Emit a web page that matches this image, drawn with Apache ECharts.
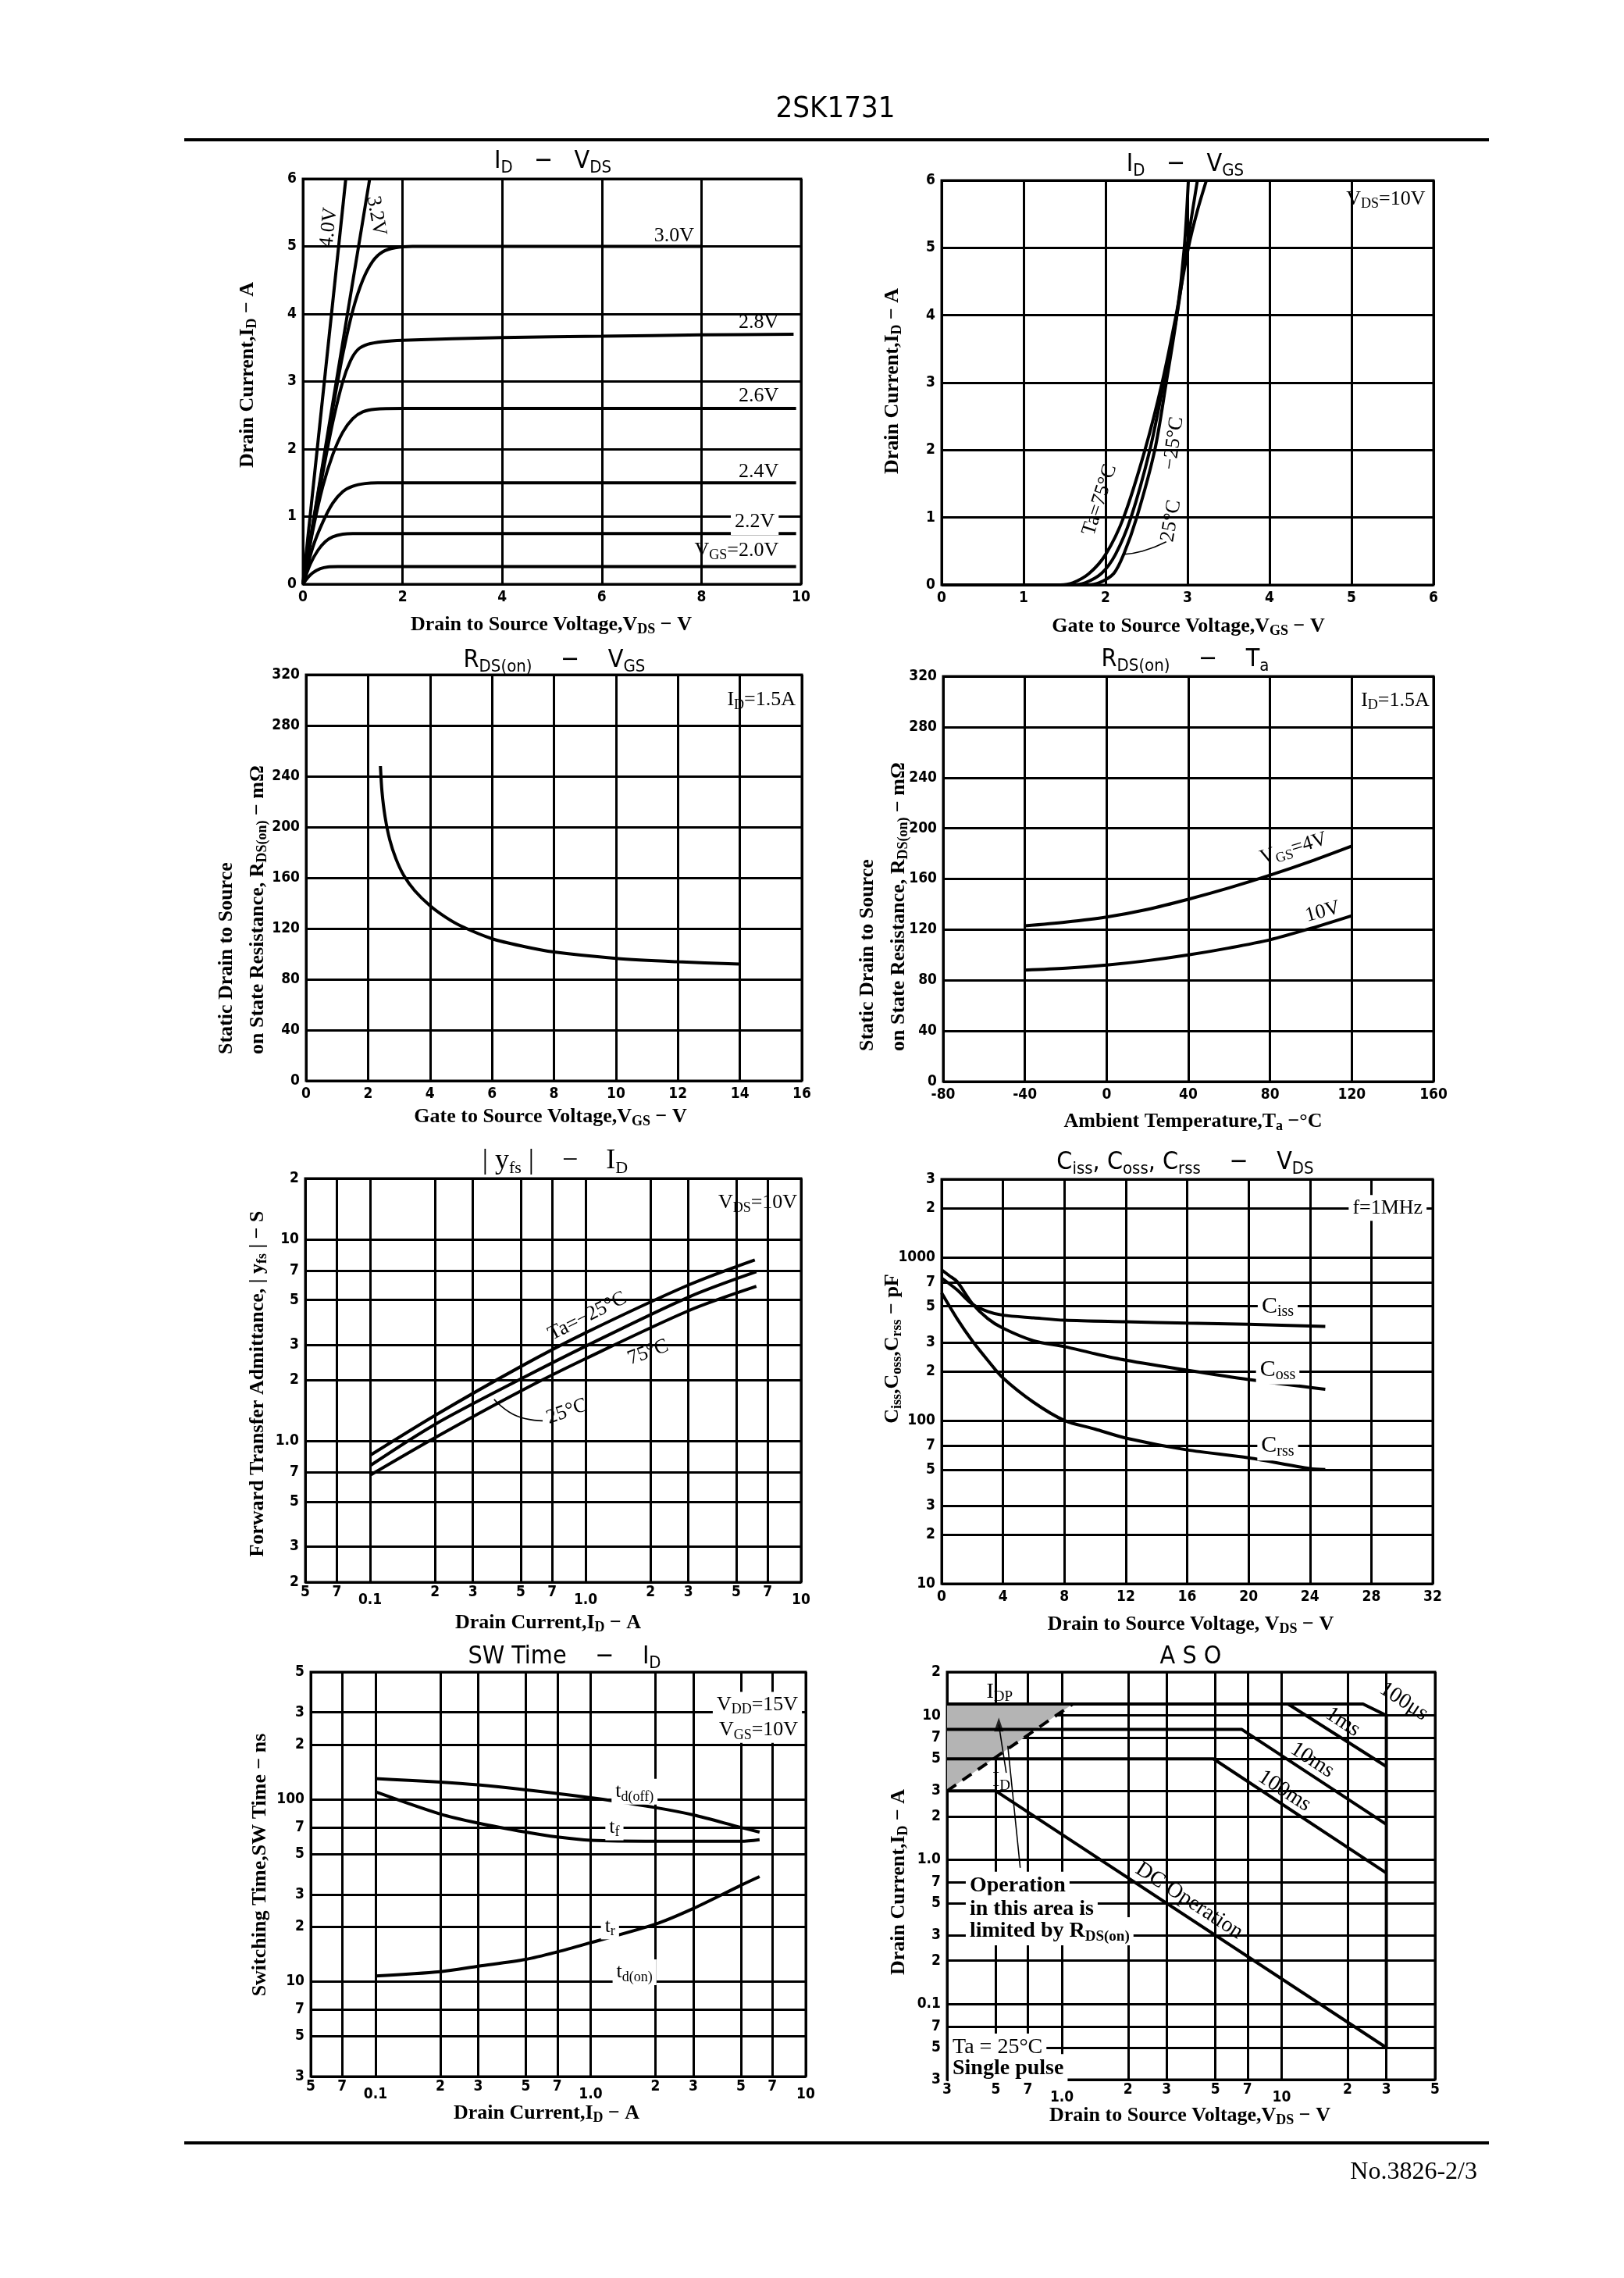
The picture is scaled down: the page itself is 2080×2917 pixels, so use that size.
<!DOCTYPE html>
<html><head><meta charset="utf-8">
<script src="https://cdn.jsdelivr.net/npm/echarts@6/dist/echarts.min.js"></script>
<style>html,body{margin:0;padding:0;background:#fff}#c{width:2080px;height:2917px}</style>
</head><body><div id="c"></div>
<script>
// ---------------- DATA ----------------
// Chart 1: ID - VDS  (x: VDS [V], y: ID [A]) per VGS
const idvds_40 = [[0,0],[0.86,6]];
const idvds_32 = [[0,0],[1.34,6]];
const idvds_30 = [[0,0],[0.2,0.88],[0.4,1.75],[0.6,2.6],[0.8,3.4],[1.0,4.05],[1.2,4.5],[1.4,4.78],[1.6,4.92],[1.85,4.98],[2.2,5.0],[8,5.0]];
const idvds_28 = [[0,0],[0.2,0.84],[0.4,1.65],[0.6,2.4],[0.8,3.0],[0.95,3.3],[1.1,3.47],[1.3,3.55],[1.6,3.59],[2,3.61],[4,3.65],[6,3.67],[8,3.69],[9.85,3.7]];
const idvds_26 = [[0,0],[0.2,0.8],[0.4,1.45],[0.6,1.92],[0.8,2.25],[1.0,2.45],[1.2,2.55],[1.45,2.59],[2,2.6],[9.9,2.6]];
const idvds_24 = [[0,0],[0.2,0.55],[0.4,0.92],[0.6,1.2],[0.8,1.37],[1.0,1.45],[1.25,1.49],[1.5,1.5],[9.9,1.5]];
const idvds_22 = [[0,0],[0.15,0.3],[0.3,0.5],[0.45,0.63],[0.6,0.7],[0.8,0.74],[1.0,0.75],[9.9,0.75]];
const idvds_20 = [[0,0],[0.1,0.1],[0.2,0.17],[0.35,0.23],[0.5,0.255],[0.7,0.26],[9.9,0.26]];
// Chart 2: ID - VGS (x: VGS, y: ID) per Ta
const idvgs_75 = [[0,0],[1.45,0],[1.6,0.03],[1.8,0.17],[2.0,0.45],[2.22,1.0],[2.48,2.0],[2.69,3.0],[2.86,4.0],[3.01,5.0],[3.12,5.55],[3.23,6.0]];
const idvgs_25 = [[0,0],[1.6,0],[1.75,0.03],[1.95,0.17],[2.12,0.45],[2.31,1.0],[2.54,2.0],[2.71,3.0],[2.87,4.0],[2.99,5.0],[3.12,6.0]];
const idvgs_m25 = [[0,0],[1.78,0],[1.92,0.03],[2.1,0.17],[2.22,0.45],[2.38,1.0],[2.6,2.0],[2.74,3.0],[2.87,4.0],[2.96,5.0],[3.01,6.0]];
const idvgs_leader = [[2.74,0.64],[2.45,0.5],[2.2,0.45]];
// Chart 3: RDS(on) - VGS
const rdsvgs = [[2.4,248],[2.45,228],[2.55,208],[2.7,190],[2.9,175],[3.15,162],[3.5,150],[4.0,138],[4.5,129],[5.0,122],[6.0,112],[7.0,106],[8.0,101.5],[10,96.5],[12,93.8],[14,92]];
// Chart 4: RDS(on) - Ta
const rdsta_4v = [[-40,123],[-20,126],[0,130],[20,136],[40,144],[60,153],[80,163],[100,174],[120,186]];
const rdsta_10v = [[-40,88],[-20,89.5],[0,92],[20,95.5],[40,100],[60,105.5],[80,112],[100,121],[120,131]];
// Chart 5: |yfs| - ID
const yfs_m25 = [[0.1,0.85],[0.2,1.34],[0.5,2.34],[1.0,3.44],[3.0,5.93],[6.1,7.9]];
const yfs_25 = [[0.1,0.756],[0.2,1.21],[0.5,2.03],[1.0,2.95],[3.0,5.16],[6.2,6.9]];
const yfs_75 = [[0.1,0.678],[0.2,1.04],[0.5,1.77],[1.0,2.56],[3.0,4.42],[6.2,5.84]];
const yfs_leader = [[0.632,1.26],[0.48,1.33],[0.376,1.61]];
// Chart 6: C - VDS
const ciss = [[0,745],[1,631],[2,516],[3,465],[4,441],[6,425],[8,411],[12,402],[16,394],[20,388],[25,376]];
const coss = [[0,836],[0.5,770],[1,710],[2,520],[3,421],[4,367],[6,307],[8,283],[10,256],[12,234],[16,203],[20,178],[25,155]];
const crss = [[0,604],[1,421],[2,307],[3,234],[4,182],[6,129],[8,100],[10,88.5],[12,78],[16,66],[20,59],[24,50.7],[25,50]];
// Chart 7: SW time - ID
const sw_tdoff = [[0.1,130],[0.3,120],[1.0,102],[2.0,90],[3.0,82],[5.0,70],[6.1,66]];
const sw_tf = [[0.1,110],[0.2,83],[0.3,74],[0.5,66],[0.7,62],[1.0,59.5],[2.0,58.8],[5.0,58.8],[6.1,60]];
const sw_tr = [[0.1,10.7],[0.2,11.3],[0.3,12.1],[0.5,13.2],[0.7,14.5],[1.0,16.3],[2.0,20.6],[3.0,25.1],[5.0,33.7],[6.1,37.6]];
// Chart 8: ASO
const aso_100us = [[0.3,12],[23.5,12],[30,10]];
const aso_1ms = [[10.7,12],[30,4.43]];
const aso_10ms = [[0.3,8],[6.6,8],[30,1.76]];
const aso_100ms = [[0.3,5],[4.9,5],[30,0.81]];
const aso_dc = [[0.3,3],[0.5,3],[30,0.05]];
const aso_vdss = [[30,10],[30,0.05]];
const aso_rds = [[0.3,3],[1.12,12]];
const aso_shade = [[0.3,3],[1.12,12],[0.3,12]];
const aso_leader1 = [[0.558,4.0],[0.516,8.65]];
const aso_leader2 = [[0.646,0.88],[0.567,6.15]];

// tick values / labels for log axes
const tk_id = [0.05,0.07,0.1,0.2,0.3,0.5,0.7,1,2,3,5,7,10];
const tl_id = ['5','7','0.1','2','3','5','7','1.0','2','3','5','7','10'];
const lo_id = [0,0,1,0,0,0,0,1,0,0,0,0,1];
const tk_yfs = [0.2,0.3,0.5,0.7,1,2,3,5,7,10,20];
const tl_yfs = ['2','3','5','7','1.0','2','3','5','7','10','2'];
const tk_cap = [10,20,30,50,70,100,200,300,500,700,1000,2000,3000];
const tl_cap = ['10','2','3','5','7','100','2','3','5','7','1000','2','3'];
const tk_sw = [3,5,7,10,20,30,50,70,100,200,300,500];
const tl_sw = ['3','5','7','10','2','3','5','7','100','2','3','5'];
const tk_asox = [0.3,0.5,0.7,1,2,3,5,7,10,20,30,50];
const tl_asox = ['3','5','7','1.0','2','3','5','7','10','2','3','5'];
const lo_asox = [0,0,0,1,0,0,0,0,1,0,0,0];
const tk_asoy = [0.03,0.05,0.07,0.1,0.2,0.3,0.5,0.7,1,2,3,5,7,10,20];
const tl_asoy = ['3','5','7','0.1','2','3','5','7','1.0','2','3','5','7','10','2'];

// ---------------- STYLE / LAYOUT ----------------
const SANS = "'DejaVu Sans Condensed','Liberation Sans Narrow','Noto Sans',sans-serif";
const SERIF = "'Liberation Serif','DejaVu Serif',serif";
const GRIDS = [
  {left:388, top:229, width:638, height:519},
  {left:1206, top:231, width:630, height:518},
  {left:392, top:864, width:635, height:520},
  {left:1208, top:866, width:628, height:519},
  {left:391, top:1509, width:635, height:517},
  {left:1206, top:1510, width:629, height:518},
  {left:398, top:2141, width:634, height:518},
  {left:1213, top:2141, width:625, height:522}
];
const GRIDLINE = {color:'#000', width:3};
const LABEL = {color:'#000', fontSize:19, fontWeight:'bold', fontFamily:SANS, margin:8};

function valAxis(g, min, max, interval) {
  return {gridIndex:g, type:'value', min, max, interval,
    axisLine:{show:false}, axisTick:{show:false},
    splitLine:{show:true, lineStyle:GRIDLINE},
    axisLabel:Object.assign({}, LABEL)};
}
function nearest(arr, v) {
  let bi = 0, bd = Infinity;
  for (let i = 0; i < arr.length; i++) {
    const d = Math.abs(Math.log(arr[i]) - Math.log(v));
    if (d < bd) { bd = d; bi = i; }
  }
  return bi;
}
function logAxis(g, ticks, labels, low, margin) {
  return {gridIndex:g, type:'log', logBase:10, min:ticks[0], max:ticks[ticks.length-1],
    axisLine:{show:false},
    axisTick:{show:false, customValues:ticks},
    splitLine:{show:true, lineStyle:GRIDLINE},
    minorTick:{show:false}, minorSplitLine:{show:false},
    axisLabel:Object.assign({}, LABEL, {customValues:ticks, margin: margin || 8,
      formatter:(v) => { const i = nearest(ticks, v); return (low && low[i]) ? '{lo|' + labels[i] + '}' : labels[i]; },
      rich:{lo:{padding:[10,0,0,0], fontSize:19, fontWeight:'bold', fontFamily:SANS, color:'#000'}}})};
}
function L(g, data, o) {
  return Object.assign({type:'line', xAxisIndex:g, yAxisIndex:g, data, showSymbol:false, symbol:'none',
    silent:true, z:3, lineStyle:{color:'#000', width:4}}, o || {});
}
const SM = {smooth:0.3};
const THIN = {lineStyle:{color:'#000', width:1.6}, smooth:0.5};

const option = {
  animation:false,
  backgroundColor:'#fff',
  grid: GRIDS.map(g => Object.assign({show:true, borderColor:'#000', borderWidth:3, backgroundColor:'transparent', containLabel:false, outerBoundsMode:'none'}, g)),
  xAxis: [
    valAxis(0,0,10,2), valAxis(1,0,6,1), valAxis(2,0,16,2), valAxis(3,-80,160,40),
    logAxis(4,tk_id,tl_id,lo_id,4), valAxis(5,0,32,4), logAxis(6,tk_id,tl_id,lo_id,4), logAxis(7,tk_asox,tl_asox,lo_asox,4)
  ],
  yAxis: [
    valAxis(0,0,6,1), valAxis(1,0,6,1), valAxis(2,0,320,40), valAxis(3,0,320,40),
    logAxis(4,tk_yfs,tl_yfs,null), logAxis(5,tk_cap,tl_cap,null), logAxis(6,tk_sw,tl_sw,null), logAxis(7,tk_asoy,tl_asoy,null)
  ],
  series: [
    L(0, idvds_40), L(0, idvds_32), L(0, idvds_30, SM), L(0, idvds_28, SM), L(0, idvds_26, SM),
    L(0, idvds_24, SM), L(0, idvds_22, SM), L(0, idvds_20, SM),
    L(1, idvgs_75, SM), L(1, idvgs_25, SM), L(1, idvgs_m25, SM), L(1, idvgs_leader, THIN),
    L(2, rdsvgs, SM),
    L(3, rdsta_4v, SM), L(3, rdsta_10v, SM),
    L(4, yfs_m25, SM), L(4, yfs_25, SM), L(4, yfs_75, SM), L(4, yfs_leader, THIN),
    L(5, ciss, SM), L(5, coss, SM), L(5, crss, SM),
    L(6, sw_tdoff, SM), L(6, sw_tf, SM), L(6, sw_tr, SM),
    {type:'custom', xAxisIndex:7, yAxisIndex:7, silent:true, z:2, data:[[0.3,3]],
      renderItem:(p, api) => ({type:'polygon', shape:{points: aso_shade.map(pt => api.coord(pt))}, style:{fill:'#b4b4b4'}})},
    L(7, aso_100us), L(7, aso_1ms), L(7, aso_10ms), L(7, aso_100ms), L(7, aso_dc), L(7, aso_vdss),
    L(7, aso_rds, {lineStyle:{color:'#000', width:4, type:[14,10]}}),
    L(7, aso_leader1, {lineStyle:{color:'#000', width:1.6}}), L(7, aso_leader2, {lineStyle:{color:'#000', width:1.6}}),
    {type:'scatter', xAxisIndex:7, yAxisIndex:7, silent:true, z:4, symbol:'triangle', symbolSize:[12,18],
      itemStyle:{color:'#000'}, data:[aso_leader1[1]]}
  ]
};

const chart = echarts.init(document.getElementById('c'), null, {width:2080, height:2917, renderer:'canvas'});
chart.setOption(option);

// ---------------- TEXT ----------------
function R(s) {
  return s.split('\n').map(line => {
    let out = '', last = 0, m; const re = /_\{([^}]*)\}/g;
    while ((m = re.exec(line))) {
      if (m.index > last) out += '{a|' + line.slice(last, m.index) + '}';
      out += '{s|' + m[1] + '}';
      last = re.lastIndex;
    }
    if (last < line.length) out += '{a|' + line.slice(last) + '}';
    return out;
  }).join('\n');
}
function T(x, y, markup, o) {
  o = o || {};
  const size = o.size || 26, sub = o.sub || Math.round(size * 0.68);
  const fam = o.fam || SERIF, wt = o.bold ? 'bold' : 'normal';
  const lh = o.lh || Math.round(size * 1.2);
  const style = {
    text: R(markup), fill:'#000',
    align: o.align || 'center', verticalAlign: o.va || 'middle',
    textAlign: o.align || 'center', textVerticalAlign: o.va || 'middle',
    fontSize: size, fontFamily: fam, fontWeight: wt,
    rich: {
      a: {fontSize:size, fontFamily:fam, fontWeight:wt, lineHeight:lh, fill:'#000', color:'#000'},
      s: {fontSize:sub, fontFamily:fam, fontWeight:wt, lineHeight:sub, padding:[Math.round(size*0.5),0,0,0], fill:'#000', color:'#000'}
    }
  };
  if (o.bg) { style.backgroundColor = '#fff'; style.padding = [1, 5]; }
  return {type:'text', x, y, rotation:(o.rot || 0) * Math.PI / 180, z:100, silent:true, style};
}

const G = [];
// page header / footer
G.push(T(1070, 140, '2SK1731', {size:38, fam:SANS}));
G.push({type:'line', z:100, silent:true, shape:{x1:236, y1:179, x2:1907, y2:179}, style:{stroke:'#000', lineWidth:4}});
G.push({type:'line', z:100, silent:true, shape:{x1:236, y1:2744, x2:1907, y2:2744}, style:{stroke:'#000', lineWidth:4}});
G.push(T(1892, 2782, 'No.3826-2/3', {size:32, align:'right'}));

// chart titles
const TT = {size:32, sub:22, fam:SANS};
G.push(T(708, 207, 'I_{D}   −   V_{DS}', TT));
G.push(T(1518, 211, 'I_{D}   −   V_{GS}', TT));
G.push(T(710, 846, 'R_{DS(on)}    −    V_{GS}', TT));
G.push(T(1518, 845, 'R_{DS(on)}    −    T_{a}', TT));
G.push(T(711, 1487, '| y_{fs} |    −    I_{D}', {size:36, sub:22, fam:SERIF}));
G.push(T(1518, 1489, 'C_{iss}, C_{oss}, C_{rss}    −    V_{DS}', TT));
G.push(T(723, 2122, 'SW Time    −    I_{D}', TT));
G.push(T(1525, 2122, 'A S O', TT));

// axis titles
const AX = {size:26, sub:18, bold:true};
const AY = {size:26, sub:18, bold:true, rot:90};
G.push(T(706, 800, 'Drain to Source Voltage,V_{DS} − V', AX));
G.push(T(1522, 802, 'Gate to Source Voltage,V_{GS} − V', AX));
G.push(T(705, 1430, 'Gate to Source Voltage,V_{GS} − V', AX));
G.push(T(1528, 1436, 'Ambient Temperature,T_{a} −°C', AX));
G.push(T(702, 2078, 'Drain Current,I_{D} − A', AX));
G.push(T(1525, 2080, 'Drain to Source Voltage, V_{DS} − V', AX));
G.push(T(700, 2706, 'Drain Current,I_{D} − A', AX));
G.push(T(1524, 2709, 'Drain to Source Voltage,V_{DS} − V', AX));
G.push(T(317, 480, 'Drain Current,I_{D} − A', AY));
G.push(T(1143, 488, 'Drain Current,I_{D} − A', AY));
G.push(T(310, 1350, 'Static Drain to Source\non State Resistance, R_{DS(on)} − mΩ', Object.assign({}, AY, {align:'left', lh:40})));
G.push(T(1131, 1346, 'Static Drain to Source\non State Resistance, R_{DS(on)} − mΩ', Object.assign({}, AY, {align:'left', lh:40})));
G.push(T(330, 1772, 'Forward Transfer Admittance, | y_{fs} | − S', AY));
G.push(T(1143, 1727, 'C_{iss},C_{oss},C_{rss} − pF', AY));
G.push(T(333, 2388, 'Switching Time,SW Time − ns', AY));
G.push(T(1151, 2410, 'Drain Current,I_{D} − A', AY));

// in-plot annotations, placed in data coordinates
const ANN = [
  {g:0,x:0.52,y:5.28,t:'4.0V',rot:84},
  {g:0,x:1.47,y:5.45,t:'3.2V',rot:-80},
  {g:0,x:7.45,y:5.15,t:'3.0V'},
  {g:0,x:9.55,y:3.87,t:'2.8V',align:'right'},
  {g:0,x:9.55,y:2.78,t:'2.6V',align:'right'},
  {g:0,x:9.55,y:1.66,t:'2.4V',align:'right'},
  {g:0,x:9.55,y:0.92,t:'2.2V',align:'right',bg:true},
  {g:0,x:9.55,y:0.5,t:'V_{GS}=2.0V',align:'right'},
  {g:1,x:5.9,y:5.72,t:'V_{DS}=10V',align:'right'},
  {g:1,x:1.93,y:1.26,t:'Ta=75°C',rot:72},
  {g:1,x:2.83,y:2.1,t:'−25°C',rot:82},
  {g:1,x:2.8,y:0.95,t:'25°C',rot:80},
  {g:2,x:15.8,y:300,t:'I_{D}=1.5A',align:'right'},
  {g:3,x:158,y:301,t:'I_{D}=1.5A',align:'right'},
  {g:3,x:91.5,y:184,t:'V_{GS}=4V',rot:17},
  {g:3,x:105.8,y:134,t:'10V',rot:15},
  {g:4,x:9.6,y:15.1,t:'V_{DS}=10V',align:'right'},
  {g:4,x:1.02,y:4.15,t:'Ta=−25°C',rot:27},
  {g:4,x:1.95,y:2.75,t:'75°C',rot:20},
  {g:4,x:0.82,y:1.4,t:'25°C',rot:20},
  {g:5,x:31.6,y:2000,t:'f=1MHz',align:'right',bg:true},
  {g:5,x:21.9,y:500,t:'C_{iss}',bg:true,size:30},
  {g:5,x:21.9,y:205,t:'C_{oss}',bg:true,size:30},
  {g:5,x:21.9,y:70,t:'C_{rss}',bg:true,size:30},
  {g:6,x:9.6,y:330,t:'V_{DD}=15V',align:'right',bg:true},
  {g:6,x:9.6,y:240,t:'V_{GS}=10V',align:'right',bg:true},
  {g:6,x:1.6,y:110,t:'t_{d(off)}',bg:true},
  {g:6,x:1.29,y:70,t:'t_{f}',bg:true},
  {g:6,x:1.23,y:20,t:'t_{r}',bg:true},
  {g:6,x:1.6,y:11.2,t:'t_{d(on)}',bg:true},
  {g:7,x:0.52,y:14.6,t:'I_{DP}',size:28},
  {g:7,x:0.53,y:3.56,t:'I_{D}',size:28},
  {g:7,x:36,y:12.5,t:'100μs',rot:-33,size:28},
  {g:7,x:19,y:9.0,t:'1ms',rot:-33,size:28},
  {g:7,x:13.8,y:4.9,t:'10ms',rot:-33,size:28},
  {g:7,x:10.3,y:3.0,t:'100ms',rot:-33,size:28},
  {g:7,x:3.8,y:0.52,t:'DC Operation',rot:-33,size:28},
  {g:7,x:0.365,y:0.66,t:'Operation',align:'left',bg:true,bold:true,size:28},
  {g:7,x:0.365,y:0.455,t:'in this area is',align:'left',bg:true,bold:true,size:28},
  {g:7,x:0.365,y:0.32,t:'limited by R_{DS(on)}',align:'left',bg:true,bold:true,size:28},
  {g:7,x:0.305,y:0.05,t:'Ta = 25°C',align:'left',bg:true,size:28},
  {g:7,x:0.305,y:0.036,t:'Single pulse',align:'left',bg:true,bold:true,size:28}
];
ANN.forEach(a => {
  const p = chart.convertToPixel({gridIndex:a.g}, [a.x, a.y]);
  if (p) G.push(T(p[0], p[1], a.t, a));
});

chart.setOption({graphic: G});
</script></body></html>
